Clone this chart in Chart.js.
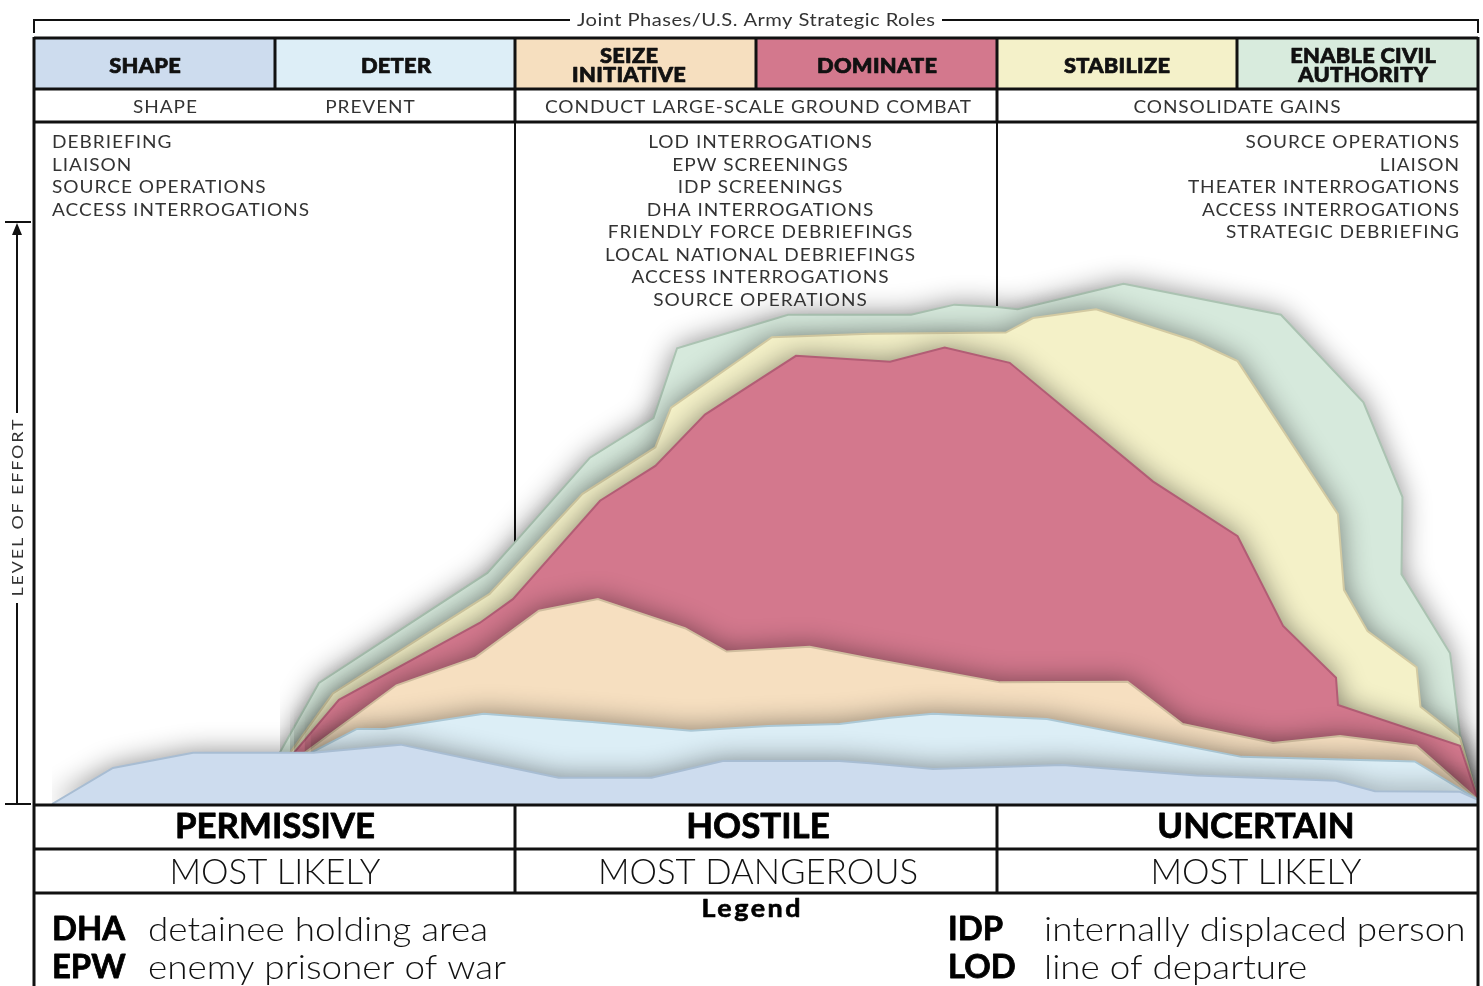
<!DOCTYPE html>
<html><head><meta charset="utf-8">
<script src="https://cdn.jsdelivr.net/npm/chart.js@4.4.0/dist/chart.umd.min.js"></script>
<style>html,body{margin:0;padding:0;background:#fff;overflow:hidden}canvas{display:block}</style>
</head><body><canvas id="c" width="1483" height="986"></canvas>
<script>
// ---------- DATA ----------
const title = 'Joint Phases/U.S. Army Strategic Roles';
const phaseLabels = [['SHAPE'], ['DETER'], ['SEIZE', 'INITIATIVE'], ['DOMINATE'], ['STABILIZE'], ['ENABLE CIVIL', 'AUTHORITY']];
const roleLabels = ['SHAPE', 'PREVENT', 'CONDUCT LARGE-SCALE GROUND COMBAT', 'CONSOLIDATE GAINS'];
const leftTasks = ['DEBRIEFING', 'LIAISON', 'SOURCE OPERATIONS', 'ACCESS INTERROGATIONS'];
const centerTasks = ['LOD INTERROGATIONS', 'EPW SCREENINGS', 'IDP SCREENINGS', 'DHA INTERROGATIONS',
  'FRIENDLY FORCE DEBRIEFINGS', 'LOCAL NATIONAL DEBRIEFINGS', 'ACCESS INTERROGATIONS', 'SOURCE OPERATIONS'];
const rightTasks = ['SOURCE OPERATIONS', 'LIAISON', 'THEATER INTERROGATIONS', 'ACCESS INTERROGATIONS', 'STRATEGIC DEBRIEFING'];
const environments = ['PERMISSIVE', 'HOSTILE', 'UNCERTAIN'];
const likelihood = ['MOST LIKELY', 'MOST DANGEROUS', 'MOST LIKELY'];
const legendTitle = 'Legend';
const legendLeft = [['DHA', 'detainee holding area'], ['EPW', 'enemy prisoner of war']];
const legendRight = [['IDP', 'internally displaced person'], ['LOD', 'line of departure']];
const axisLabel = 'LEVEL OF EFFORT';

// x in phase units (0..6), y = level of effort (0..100), top edge of each band
const shapeX = [0.075, 0.328, 0.661, 1.161, 1.523, 1.868, 2.180, 2.566, 2.862, 3.347, 3.474, 3.735, 4.274, 4.830, 5.410, 5.572, 5.925, 6.0];
const shapeY = [0, 6.2, 8.8, 8.8, 10.2, 7.2, 4.5, 4.5, 7.4, 7.4, 7.0, 6.0, 6.7, 4.9, 4.0, 2.2, 2.1, 0.7];
const deterX = [1.150, 1.342, 1.457, 1.868, 2.319, 2.730, 3.050, 3.347, 3.557, 3.735, 4.209, 5.018, 5.737, 5.925, 6.0];
const deterY = [8.8, 12.9, 12.9, 15.5, 14.1, 12.6, 13.4, 13.75, 14.8, 15.5, 14.6, 8.1, 7.3, 2.6, 0.7];
const seizeX = [1.125, 1.506, 1.835, 2.098, 2.343, 2.705, 2.878, 3.223, 3.474, 4.014, 4.544, 4.773, 5.148, 5.427, 5.745, 6.0];
const seizeY = [8.8, 20.4, 25.2, 33.2, 35.2, 30.2, 26.2, 27.0, 25.0, 20.9, 21.0, 13.75, 10.5, 11.7, 10.0, 0.7];
const dominateX = [1.080, 1.267, 1.852, 1.990, 2.352, 2.582, 2.788, 3.166, 3.557, 3.784, 4.054, 4.650, 5.001, 5.190, 5.410, 5.418, 5.925, 6.0];
const dominateY = [8.8, 17.9, 31.1, 35.2, 52.1, 58.1, 66.9, 77.0, 76.0, 78.45, 75.8, 55.4, 46.0, 30.6, 21.7, 17.0, 10.0, 0.7];
const stabilizeX = [1.064, 1.242, 1.893, 2.279, 2.582, 2.647, 3.066, 3.474, 4.038, 4.151, 4.413, 4.820, 5.001, 5.418, 5.443, 5.541, 5.745, 5.761, 5.925, 6.0];
const stabilizeY = [8.8, 19.0, 36.1, 53.3, 61.3, 68.1, 80.2, 80.8, 81.0, 83.5, 85.0, 79.6, 76.1, 49.8, 36.8, 29.7, 23.5, 16.7, 11.4, 0.7];
const enableX = [1.022, 1.184, 1.884, 1.999, 2.310, 2.574, 2.672, 3.133, 3.644, 3.825, 4.001, 4.087, 4.527, 5.181, 5.524, 5.686, 5.682, 5.884, 5.925, 6.0];
const enableY = [8.9, 20.8, 39.7, 45.0, 59.5, 66.3, 78.3, 84.05, 84.07, 85.8, 85.4, 85.0, 89.4, 84.07, 69.0, 52.75, 39.5, 25.9, 12.0, 0.7];

// ---------- STYLE ----------
const FONT = 'Lato, "Open Sans", sans-serif';
const phaseFill = ['#cddcee', '#ddeef7', '#f6dfbf', '#d3788d', '#f4f1c9', '#d8ebdd'];
const bandFill = ['#cddcee', '#dceef6', '#f6dfc0', '#d3788d', '#f4f1c8', '#d6e9dc'];
const bandLine = ['#a8bdd3', '#abc8d6', '#d0bd9e', '#b25d75', '#d3caa2', '#abc3b2'];

const series = [
  ['SHAPE', shapeX, shapeY], ['DETER', deterX, deterY], ['SEIZE INITIATIVE', seizeX, seizeY],
  ['DOMINATE', dominateX, dominateY], ['STABILIZE', stabilizeX, stabilizeY], ['ENABLE CIVIL AUTHORITY', enableX, enableY]
];
const datasets = series.map((s, i) => ({
  label: s[0],
  data: s[1].map((x, k) => ({x: x, y: s[2][k]})),
  backgroundColor: bandFill[i],
  borderColor: bandLine[i],
  borderWidth: 2,
  pointRadius: 0,
  tension: 0,
  fill: 'origin'
}));

// ---------- TEXT HELPERS ----------
function setFont(ctx, w, s) { ctx.font = w + ' ' + s + 'px ' + FONT; }
// returns a horizontal stretch + letter spacing so that `ref` spans `width`
function fitter(ctx, weight, size, ref, width, maxStretch) {
  setFont(ctx, weight, size); ctx.letterSpacing = '0px';
  const w0 = ctx.measureText(ref).width;
  const ms = maxStretch === undefined ? 1.12 : maxStretch;
  const sx = Math.min(Math.max(width / w0, 0.95), ms);
  const ls = (width / sx - w0) / Math.max(1, ref.length - 1);
  return {weight: weight, size: size, sx: sx, ls: ls};
}
// draw text with cap-centre at cy
function put(ctx, s, x, cy, align, f, color, bold) {
  ctx.save();
  setFont(ctx, f.weight, f.size); ctx.letterSpacing = '0px';
  const w = (ctx.measureText(s).width + f.ls * (s.length - 1)) * f.sx;
  ctx.letterSpacing = f.ls + 'px';
  ctx.textAlign = 'left'; ctx.textBaseline = 'alphabetic';
  ctx.fillStyle = color || '#222';
  const lx = align === 'center' ? x - w / 2 : (align === 'right' ? x - w : x);
  ctx.translate(lx, cy + f.size * 0.358);
  ctx.scale(f.sx, 1);
  ctx.fillText(s, 0, 0);
  if (bold) { ctx.strokeStyle = color || '#222'; ctx.lineWidth = bold; ctx.lineJoin = 'round'; ctx.strokeText(s, 0, 0); }
  ctx.restore();
}
function hline(ctx, x1, x2, y) { ctx.beginPath(); ctx.moveTo(x1, y); ctx.lineTo(x2, y); ctx.stroke(); }
function vline(ctx, x, y1, y2) { ctx.beginPath(); ctx.moveTo(x, y1); ctx.lineTo(x, y2); ctx.stroke(); }

const SHADOW = 'rgba(0,0,0,0.48)';
const framePlugin = {
  id: 'frame',
  beforeDatasetsDraw(chart) {
    const ctx = chart.ctx, xs = chart.scales.x;
    ctx.save();
    ctx.strokeStyle = '#111'; ctx.lineWidth = 2;
    [2, 4].forEach(i => vline(ctx, Math.round(xs.getPixelForValue(i)), 122, 804));
    ctx.restore();
    ctx.save();
    ctx.shadowColor = SHADOW; ctx.shadowBlur = 28; ctx.shadowOffsetX = 0; ctx.shadowOffsetY = 0;
  },
  beforeDatasetDraw(chart) { chart.ctx.shadowColor = 'rgba(0,0,0,0)'; },
  afterDatasetDraw(chart) { chart.ctx.shadowColor = SHADOW; },
  afterDatasetsDraw(chart) { chart.ctx.restore(); },
  afterDraw(chart) {
    const ctx = chart.ctx, xs = chart.scales.x;
    const L = 34, R = 1478;
    const colX = [0, 1, 2, 3, 4, 5, 6].map(i => Math.round(xs.getPixelForValue(i)));

    // header fills
    for (let i = 0; i < 6; i++) { ctx.fillStyle = phaseFill[i]; ctx.fillRect(colX[i], 38, colX[i + 1] - colX[i], 51); }
    // title bracket
    ctx.save();
    ctx.strokeStyle = '#111'; ctx.lineWidth = 2;
    hline(ctx, L - 1, 570, 20); hline(ctx, 942, R + 1, 20);
    vline(ctx, L, 19, 33); vline(ctx, R, 19, 33);
    ctx.restore();
    put(ctx, title, 756, 20, 'center', fitter(ctx, 400, 18, title, 358), '#333');

    // grid lines
    ctx.save();
    ctx.strokeStyle = '#111'; ctx.lineWidth = 3;
    hline(ctx, L, R, 38); hline(ctx, L, R, 89); hline(ctx, L, R, 122);
    for (let i = 1; i < 6; i++) vline(ctx, colX[i], 38, 89);
    vline(ctx, colX[2], 89, 122); vline(ctx, colX[4], 89, 122);
    vline(ctx, L, 37, 986); vline(ctx, R, 37, 986);
    hline(ctx, L, R, 805); hline(ctx, L, R, 849); hline(ctx, L, R, 893);
    vline(ctx, colX[2], 805, 893); vline(ctx, colX[4], 805, 893);
    ctx.restore();

    // phase headers
    const hf = fitter(ctx, 900, 21, 'DOMINATE', 120, 1.04);
    const hcx = [145, 396, 629, 877, 1117, 1363];
    phaseLabels.forEach((lab, i) => {
      if (lab.length === 1) put(ctx, lab[0], hcx[i], 65, 'center', hf, '#111', 0.7);
      else { put(ctx, lab[0], hcx[i], 55.5, 'center', hf, '#111', 0.7); put(ctx, lab[1], hcx[i], 74, 'center', hf, '#111', 0.7); }
    });
    // roles
    const rf = fitter(ctx, 400, 17, roleLabels[2], 426);
    const rcx = [165, 370, 758, 1237];
    roleLabels.forEach((lab, i) => put(ctx, lab, rcx[i], 107, 'center', rf, '#333'));
    // task lists
    const tf = fitter(ctx, 400, 17, 'ACCESS INTERROGATIONS', 257);
    leftTasks.forEach((t, k) => put(ctx, t, 52, 142 + k * 22.5, 'left', tf, '#333'));
    centerTasks.forEach((t, k) => put(ctx, t, 760, 142 + k * 22.5, 'center', tf, '#333'));
    rightTasks.forEach((t, k) => put(ctx, t, 1459, 142 + k * 22.5, 'right', tf, '#333'));

    // environment rows
    const ef = fitter(ctx, 700, 35, 'PERMISSIVE', 200);
    const ecx = [275, 758, 1256];
    environments.forEach((e, i) => put(ctx, e, ecx[i], 825.5, 'center', ef, '#000', 0.8));
    const lf = fitter(ctx, 300, 36, 'MOST DANGEROUS', 320);
    likelihood.forEach((e, i) => put(ctx, e, ecx[i], 871.5, 'center', lf, '#111'));

    // legend
    put(ctx, legendTitle, 751, 908.5, 'center', fitter(ctx, 700, 24, legendTitle, 99), '#000', 0.6);
    const kf = fitter(ctx, 700, 32, 'DHA', 73);
    const df = fitter(ctx, 300, 33, 'detainee holding area', 340);
    const rowY = [929, 967];
    legendLeft.forEach((p, k) => { put(ctx, p[0], 52, rowY[k], 'left', kf, '#000', 0.8); put(ctx, p[1], 148, rowY[k], 'left', df, '#111'); });
    legendRight.forEach((p, k) => { put(ctx, p[0], 948, rowY[k], 'left', kf, '#000', 0.8); put(ctx, p[1], 1044, rowY[k], 'left', df, '#111'); });

    // level of effort arrow
    ctx.save();
    ctx.strokeStyle = '#111'; ctx.fillStyle = '#111'; ctx.lineWidth = 2;
    hline(ctx, 5, 31, 222); hline(ctx, 5, 31, 804);
    vline(ctx, 17, 232, 413); vline(ctx, 17, 603, 804);
    ctx.beginPath(); ctx.moveTo(17, 223); ctx.lineTo(12, 235); ctx.lineTo(22, 235); ctx.closePath(); ctx.fill();
    ctx.restore();
    ctx.save();
    ctx.translate(17, 508); ctx.rotate(-Math.PI / 2);
    put(ctx, axisLabel, 0, 0, 'center', fitter(ctx, 400, 16, axisLabel, 177), '#333');
    ctx.restore();
  }
};

new Chart(document.getElementById('c'), {
  type: 'line',
  data: {datasets: datasets},
  options: {
    responsive: false,
    devicePixelRatio: 1,
    animation: false,
    layout: {padding: {left: 34, right: 5, top: 222, bottom: 182}},
    scales: {
      x: {type: 'linear', min: 0, max: 6, display: false},
      y: {type: 'linear', min: 0, max: 100, display: false}
    },
    plugins: {legend: {display: false}, tooltip: {enabled: false}},
    elements: {line: {capBezierPoints: false}}
  },
  plugins: [framePlugin]
});
</script></body></html>
